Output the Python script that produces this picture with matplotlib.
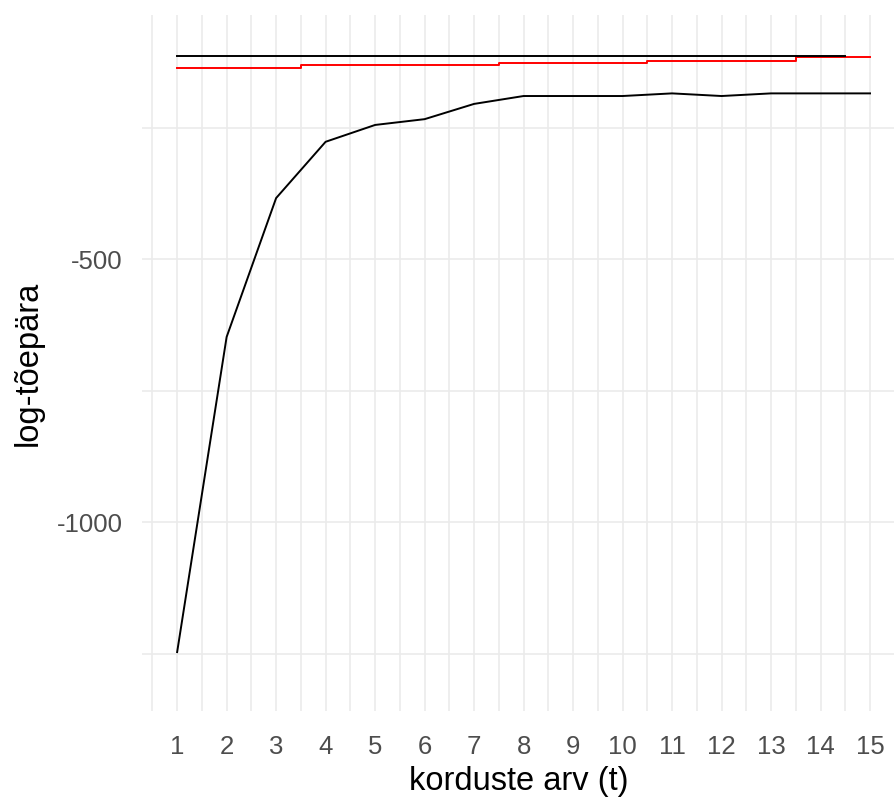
import numpy as np
import matplotlib
matplotlib.use('Agg')
import matplotlib.pyplot as plt
from matplotlib.ticker import MultipleLocator

# iteration index
t = [1, 2, 3, 4, 5, 6, 7, 8, 9, 10, 11, 12, 13, 14, 15]

# log-likelihood per iteration
loglik = [-1247, -648, -384, -277, -245, -234, -205, -190, -190, -190, -185, -190, -185, -185, -185]
# red reference series
loglik_red = [-136, -136, -136, -131, -131, -131, -131, -127, -127, -127, -123, -123, -123, -116, -116]
# black reference level (no value at t = 15)
loglik_true = [-113.5] * 14 + [np.nan]

xlabel = 'korduste arv (t)'
ylabel = 'log-tõepära'

plt.rcParams['font.family'] = ['Liberation Sans', 'DejaVu Sans']
plt.rcParams['axes.unicode_minus'] = False

W, H = 895, 798
fig = plt.figure(figsize=(W / 100, H / 100), dpi=100)
# panel in pixel coords: x 142..895, y 15..711
ax = fig.add_axes([142 / W, 1 - 711 / H, (895 - 142) / W, (711 - 15) / H])

ax.plot(t, loglik_red, color='#FF0000', lw=1.4, drawstyle='steps-mid', zorder=3)
ax.plot(t, loglik_true, color='black', lw=1.4, drawstyle='steps-mid', zorder=4)
ax.plot(t, loglik, color='black', lw=1.4, zorder=5)

ax.set_xlim(0.29, 15.505)
ax.set_ylim(-1359, -36)

ax.set_xticks(t)
ax.xaxis.set_minor_locator(MultipleLocator(0.5))
ax.set_yticks([-1000, -500])
ax.set_yticks([-1250, -750, -250], minor=True)

ax.grid(True, which='both', color='#EBEBEB', lw=1.2)
ax.set_axisbelow(True)
for s in ax.spines.values():
    s.set_visible(False)
ax.tick_params(which='both', length=0, colors='#4D4D4D', labelsize=18.5)
ax.tick_params(axis='x', pad=17)
ax.tick_params(axis='y', pad=14)

ax.set_xlabel(xlabel, fontsize=23.5, color='black', labelpad=5)
ax.set_ylabel(ylabel, fontsize=23.5, color='black', labelpad=9)

fig.savefig('out.png', dpi=100)
